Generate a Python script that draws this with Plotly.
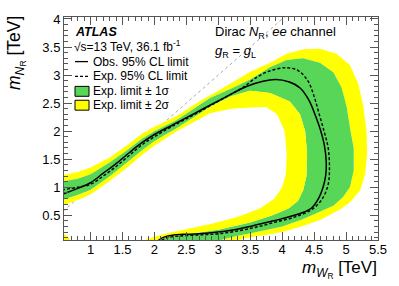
import plotly.graph_objects as go

# ---------------- data (TeV) ----------------
obs_x = [0.55, 0.8, 1.0, 1.2, 1.4, 1.6, 1.8, 2.0, 2.3, 2.6, 2.9, 3.2, 3.45, 3.7, 3.9, 4.1, 4.28, 4.42, 4.52, 4.6, 4.66, 4.69, 4.68, 4.64, 4.57, 4.46, 4.3, 4.0, 3.75, 3.5, 3.25, 3.0, 2.7, 2.45, 2.3, 2.15, 2.05]
obs_y = [0.87, 0.98, 1.08, 1.25, 1.42, 1.61, 1.79, 1.94, 2.12, 2.3, 2.48, 2.66, 2.8, 2.89, 2.92, 2.88, 2.77, 2.55, 2.28, 2.02, 1.75, 1.45, 1.2, 1.0, 0.8, 0.63, 0.54, 0.44, 0.37, 0.3, 0.24, 0.2, 0.17, 0.16, 0.15, 0.11, 0.04]

exp_x = [0.55, 0.8, 1.0, 1.2, 1.4, 1.6, 1.8, 2.0, 2.3, 2.6, 2.9, 3.2, 3.4, 3.6, 3.8, 4.05, 4.25, 4.4, 4.5, 4.58, 4.66, 4.72, 4.74, 4.72, 4.62, 4.46, 4.2, 3.9, 3.6, 3.3, 3.0, 2.7, 2.4, 2.2, 2.1]
exp_y = [0.95, 1.0, 1.05, 1.2, 1.37, 1.56, 1.75, 1.9, 2.1, 2.28, 2.47, 2.66, 2.79, 2.96, 3.07, 3.13, 3.08, 2.9, 2.62, 2.3, 1.98, 1.7, 1.35, 1.05, 0.78, 0.6, 0.47, 0.38, 0.29, 0.22, 0.17, 0.15, 0.13, 0.1, 0.04]

p2_x = [0.55, 0.8, 1.0, 1.3, 1.55, 1.8, 2.0, 2.35, 2.7, 3.0, 3.24, 3.5, 3.81, 4.07, 4.33, 4.59, 4.85, 5.06, 5.19, 5.27, 5.32, 5.33, 5.3, 5.22, 5.07, 4.9, 4.6, 4.3, 4.0, 3.7, 3.45, 3.25]
p2_y = [1.21, 1.27, 1.35, 1.53, 1.73, 1.95, 2.08, 2.27, 2.53, 2.72, 2.88, 3.06, 3.22, 3.38, 3.46, 3.47, 3.38, 3.18, 2.85, 2.45, 2.0, 1.6, 1.24, 0.94, 0.74, 0.6, 0.42, 0.3, 0.2, 0.14, 0.1, 0.04]

p1_x = [0.55, 0.8, 1.0, 1.3, 1.55, 1.8, 2.0, 2.35, 2.87, 3.24, 3.5, 3.81, 4.07, 4.33, 4.59, 4.8, 4.93, 5.01, 5.07, 5.12, 5.12, 5.06, 4.95, 4.8, 4.5, 4.3, 4.0, 3.6, 3.25, 2.97]
p1_y = [1.1, 1.15, 1.23, 1.44, 1.64, 1.86, 2.0, 2.2, 2.59, 2.78, 2.92, 3.14, 3.27, 3.3, 3.22, 3.05, 2.78, 2.43, 2.0, 1.7, 1.3, 1.0, 0.82, 0.67, 0.52, 0.42, 0.3, 0.2, 0.12, 0.04]

m1_x = [0.55, 0.8, 1.0, 1.3, 1.55, 1.8, 2.0, 2.35, 2.87, 3.2, 3.5, 3.81, 4.12, 4.28, 4.36, 4.39, 4.38, 4.33, 4.25, 4.1, 3.85, 3.5, 3.0, 2.5, 2.2, 2.0]
m1_y = [0.77, 0.86, 0.95, 1.19, 1.42, 1.65, 1.82, 2.05, 2.43, 2.62, 2.72, 2.68, 2.53, 2.3, 2.0, 1.6, 1.2, 0.95, 0.76, 0.62, 0.5, 0.37, 0.24, 0.16, 0.11, 0.04]

m2_x = [0.55, 0.8, 1.0, 1.3, 1.55, 1.8, 2.0, 2.35, 2.87, 3.2, 3.5, 3.75, 3.92, 4.04, 4.07, 4.06, 4.0, 3.88, 3.65, 3.3, 2.9, 2.5, 2.2, 1.95, 1.8]
m2_y = [0.67, 0.77, 0.87, 1.11, 1.33, 1.57, 1.74, 2.0, 2.32, 2.4, 2.42, 2.43, 2.3, 2.0, 1.6, 1.25, 1.0, 0.8, 0.62, 0.47, 0.35, 0.25, 0.18, 0.1, 0.04]

corner_x = [0.5, 0.6, 0.66, 0.7, 0.5]
corner_y = [0.2, 0.16, 0.1, 0.0, 0.0]

diag = [0.5, 4.2]

x_ticks = [1, 1.5, 2, 2.5, 3, 3.5, 4, 4.5, 5, 5.5]
y_ticks = [0.5, 1, 1.5, 2, 2.5, 3, 3.5, 4]

YELLOW = "#ffff00"
GREEN = "#57d657"
FONT = "Liberation Sans"

W, H = 399, 286
L, R, T, B = 64, 21, 15, 46
PW, PH = W - L - R, H - T - B


def px(x):
    return (x - L) / PW


def py(y):
    return (H - B - y) / PH


def band(ax, ay, bx, by):
    return ax + bx[::-1], ay + by[::-1]


fig = go.Figure()

fig.add_trace(go.Scatter(x=diag, y=diag, mode="lines",
                         line=dict(color="#aaaaaa", width=1, dash="dot"),
                         hoverinfo="skip"))

bx, by = band(p2_x, p2_y, p1_x, p1_y)
fig.add_trace(go.Scatter(x=bx, y=by, fill="toself", fillcolor=YELLOW,
                         mode="none", hoverinfo="skip"))
bx, by = band(p1_x, p1_y, m1_x, m1_y)
fig.add_trace(go.Scatter(x=bx, y=by, fill="toself", fillcolor=GREEN,
                         mode="none", hoverinfo="skip"))
bx, by = band(m1_x, m1_y, m2_x, m2_y)
fig.add_trace(go.Scatter(x=bx, y=by, fill="toself", fillcolor=YELLOW,
                         mode="none", hoverinfo="skip"))
fig.add_trace(go.Scatter(x=corner_x, y=corner_y, fill="toself", fillcolor=YELLOW,
                         mode="none", hoverinfo="skip"))

fig.add_trace(go.Scatter(x=exp_x, y=exp_y, mode="lines", line_shape="spline",
                         line=dict(color="black", width=1.4, dash="3px,2px"),
                         hoverinfo="skip"))
fig.add_trace(go.Scatter(x=obs_x, y=obs_y, mode="lines", line_shape="spline",
                         line=dict(color="black", width=1.5),
                         hoverinfo="skip"))

axis_common = dict(ticks="inside", mirror="allticks", showline=True,
                   linecolor="#555555", linewidth=1, tickcolor="#555555",
                   ticklen=8, showgrid=False, zeroline=False,
                   tickfont=dict(family=FONT, size=13, color="black"),
                   minor=dict(ticks="inside", ticklen=4, dtick=0.1,
                              tickcolor="#555555", showgrid=False))

fig.update_xaxes(range=[0.585, 5.5], tickvals=x_ticks, ticklabelstandoff=-3,
                 ticktext=[f"{v:g}" for v in x_ticks], **axis_common)
fig.update_yaxes(range=[0.059, 4.035], tickvals=y_ticks,
                 ticktext=[f"{v:g}" for v in y_ticks], **axis_common)

ann = []
def text(x, y, s, size=11, xanchor="left", **kw):
    ann.append(dict(x=px(x), y=py(y), xref="paper", yref="paper", text=s,
                    showarrow=False, xanchor=xanchor, yanchor="middle",
                    font=dict(family=FONT, size=size, color="black"), **kw))

text(73, 30, "<b><i>ATLAS</i></b>", size=12.5)
text(72, 44, "√s=13 TeV, 36.1 fb<sup>-1</sup>", size=12)
text(91, 60, "Obs. 95% CL limit", size=12)
text(91, 75, "Exp. 95% CL limit", size=12)
text(91, 90, "Exp. limit ± 1σ", size=12)
text(91, 104, "Exp. limit ± 2σ", size=12)
text(213, 31, "Dirac <i>N</i><sub>R</sub>, <i>ee</i> channel", size=13)
text(213, 50, "<i>g</i><sub>R</sub> = <i>g</i><sub>L</sub>", size=13)

# axis titles
ann.append(dict(x=px(379), y=py(270), xref="paper", yref="paper",
                text="<i>m</i><sub><i>W</i><sub>R</sub></sub> [TeV]",
                showarrow=False, xanchor="right", yanchor="middle",
                font=dict(family=FONT, size=17, color="black")))
ann.append(dict(x=px(16), y=py(12), xref="paper", yref="paper",
                text="<i>m</i><sub><i>N</i><sub>R</sub></sub> [TeV]",
                showarrow=False, xanchor="center", yanchor="top", textangle=-90,
                font=dict(family=FONT, size=17.5, color="black")))

shapes = []
shapes.append(dict(type="line", xref="paper", yref="paper",
                   x0=px(75), x1=px(88), y0=py(60), y1=py(60),
                   line=dict(color="black", width=1.3)))
shapes.append(dict(type="line", xref="paper", yref="paper",
                   x0=px(75), x1=px(88), y0=py(75), y1=py(75),
                   line=dict(color="black", width=1.3, dash="3px,2px")))
shapes.append(dict(type="rect", xref="paper", yref="paper",
                   x0=px(75), x1=px(89), y0=py(85), y1=py(95),
                   fillcolor=GREEN, line=dict(color="black", width=1)))
shapes.append(dict(type="rect", xref="paper", yref="paper",
                   x0=px(75), x1=px(89), y0=py(99), y1=py(109),
                   fillcolor=YELLOW, line=dict(color="black", width=1)))

fig.update_layout(width=W, height=H, margin=dict(l=L, r=R, t=T, b=B),
                  plot_bgcolor="white", paper_bgcolor="white",
                  showlegend=False, annotations=ann, shapes=shapes,
                  font=dict(family=FONT))

fig.write_html("out.html", config={"displayModeBar": False},
               post_script="document.body.style.margin='0';document.body.style.overflow='hidden';")
